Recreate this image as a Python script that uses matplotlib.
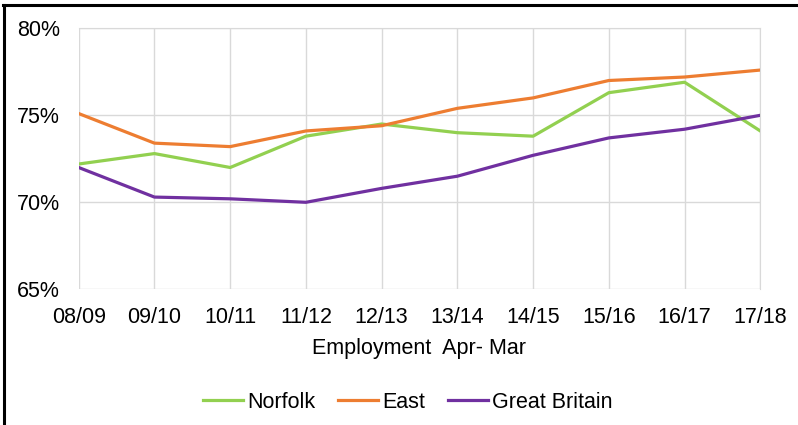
import matplotlib
matplotlib.use("Agg")
import matplotlib.pyplot as plt
from matplotlib.lines import Line2D

years = ["08/09", "09/10", "10/11", "11/12", "12/13", "13/14", "14/15", "15/16", "16/17", "17/18"]
norfolk = [72.2, 72.8, 72.0, 73.8, 74.5, 74.0, 73.8, 76.3, 76.9, 74.1]
east = [75.1, 73.4, 73.2, 74.1, 74.4, 75.4, 76.0, 77.0, 77.2, 77.6]
great_britain = [72.0, 70.3, 70.2, 70.0, 70.8, 71.5, 72.7, 73.7, 74.2, 75.0]
yticks = [65, 70, 75, 80]
ytick_labels = ["65%", "70%", "75%", "80%"]

plt.rcParams['font.family'] = ['Liberation Sans', 'DejaVu Sans']

W, H = 798, 425
FS = 15.5
fig = plt.figure(figsize=(W / 100, H / 100), dpi=100)
left, right, top, bottom = 78.7, 760.3, 28.3, 289.3
ax = fig.add_axes([left / W, 1 - bottom / H, (right - left) / W, (bottom - top) / H])

x = list(range(len(years)))
ax.plot(x, norfolk, color="#92D050", lw=2.3, label="Norfolk", solid_joinstyle="round", zorder=3)
ax.plot(x, east, color="#ED7D31", lw=2.3, label="East", solid_joinstyle="round", zorder=3)
ax.plot(x, great_britain, color="#7030A0", lw=2.3, label="Great Britain", solid_joinstyle="round", zorder=3)

ax.set_xlim(0, len(years) - 1)
ax.set_ylim(65, 80)
ax.set_yticks(yticks)
ax.set_yticklabels(ytick_labels)
ax.set_xticks(x)
ax.set_xticklabels(years)
ax.grid(True, color="#D9D9D9", lw=1)
ax.set_axisbelow(True)
for s in ax.spines.values():
    s.set_visible(False)
ax.spines['top'].set_visible(True)
ax.spines['top'].set_color("#D9D9D9")
ax.spines['right'].set_visible(True)
ax.spines['right'].set_color("#D9D9D9")
ax.tick_params(length=0, labelsize=FS, colors="#000000")
ax.tick_params(axis='x', pad=13)
ax.tick_params(axis='y', pad=13.5)
ax.set_xlabel("Employment  Apr- Mar", fontsize=FS, labelpad=7)

fig.legend(loc="center", bbox_to_anchor=(408 / W, 1 - 402 / H), ncol=3, frameon=False,
           fontsize=FS, handlelength=1.86, handletextpad=0.2, columnspacing=1.05)

# figure border lines (top and left)
fig.add_artist(Line2D([3.5 / W, 3.5 / W], [0, 1 - 5 / H], color="black", lw=2.2, transform=fig.transFigure))
fig.add_artist(Line2D([2.5 / W, 1.0], [1 - 5 / H, 1 - 5 / H], color="black", lw=2.2, transform=fig.transFigure))

fig.savefig("out.png", dpi=100, facecolor="white")
